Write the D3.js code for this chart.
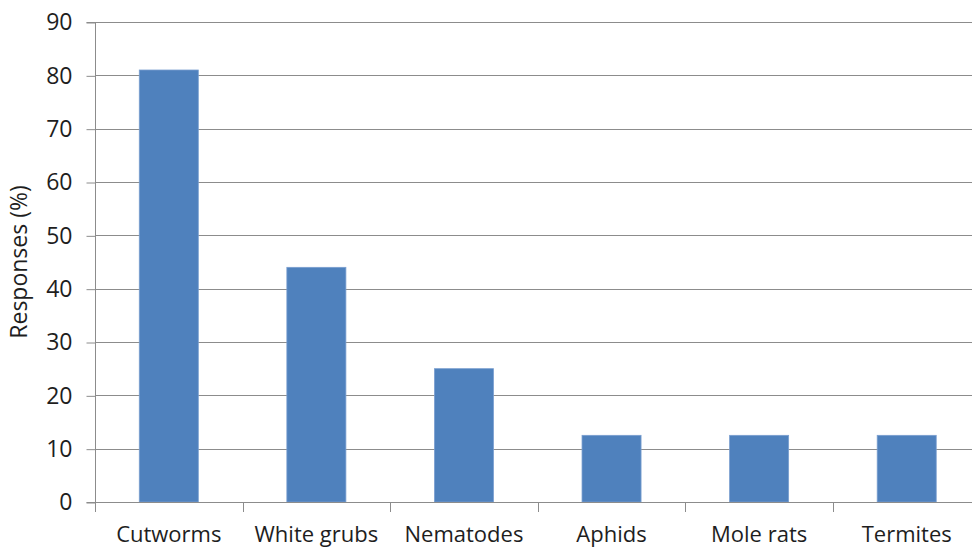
<!DOCTYPE html>
<html><head><meta charset="utf-8">
<script src="https://cdn.jsdelivr.net/npm/d3@7"></script>
<style>body{margin:0;background:#fff}svg{display:block}</style>
</head><body>
<svg id="c" width="972" height="550"></svg>
<script>
const categories = ["Cutworms","White grubs","Nematodes","Aphids","Mole rats","Termites"];
const values = [81, 44, 25, 12.5, 12.5, 12.5];
const yTicks = [0,10,20,30,40,50,60,70,80,90];

const svg = d3.select("#c");
const W = 972, H = 550;
const m = {left:95, right:W-980.5, top:22, bottom:H-502};
const x = d3.scaleBand().domain(categories).range([m.left, W - m.right]).paddingInner(0.6).paddingOuter(0.3);
const y = d3.scaleLinear().domain([0,90]).range([H - m.bottom, m.top]);
const font = "'Open Sans', 'Liberation Sans', sans-serif";
const grid = "#8c8c8c";
const txt = "#1e1e1e";

// gridlines
svg.append("g").selectAll("line").data(yTicks.slice(1)).join("line")
  .attr("x1", m.left).attr("x2", W - m.right)
  .attr("y1", d => Math.round(y(d)) + 0.5).attr("y2", d => Math.round(y(d)) + 0.5)
  .attr("stroke", grid).attr("stroke-width", 1);

// bars
svg.append("g").selectAll("rect").data(values).join("rect")
  .attr("x", (d,i) => x(categories[i]))
  .attr("width", x.bandwidth())
  .attr("y", d => y(d))
  .attr("height", d => y(0) - y(d))
  .attr("fill", "#4f81bd")
  .attr("stroke", "#7a9fd0").attr("stroke-width", 0.8);

// y axis
const yAxis = d3.axisLeft(y).tickValues(yTicks).tickSize(9).tickPadding(14);
const gy = svg.append("g").attr("transform", `translate(${m.left + 0.5},0.5)`).call(yAxis);
gy.select(".domain").attr("stroke", grid).attr("d", `M-9,${y(0)}H0V${y(90)}H-9`);
gy.selectAll(".tick line").attr("stroke", grid);
gy.selectAll(".tick text").attr("font-family", font).attr("font-size", 23).attr("fill", txt);

// x axis
const gx = svg.append("g");
gx.append("line").attr("x1", m.left).attr("x2", W - m.right)
  .attr("y1", Math.round(y(0)) + 0.5).attr("y2", Math.round(y(0)) + 0.5).attr("stroke", grid);
const step = (W - m.right - m.left) / categories.length;
gx.selectAll("line.t").data(d3.range(categories.length + 1)).join("line").attr("class","t")
  .attr("x1", i => Math.round(m.left + i*step) + 0.5).attr("x2", i => Math.round(m.left + i*step) + 0.5)
  .attr("y1", Math.round(y(0))).attr("y2", Math.round(y(0)) + 10).attr("stroke", grid);
gx.selectAll("text").data(categories).join("text")
  .attr("x", d => x(d) + x.bandwidth()/2).attr("y", 542)
  .attr("text-anchor", "middle").attr("font-family", font).attr("font-size", 22).attr("fill", txt)
  .text(d => d);

// y label
svg.append("text").attr("transform", "translate(27,262) rotate(-90)")
  .attr("text-anchor", "middle").attr("font-family", font).attr("font-size", 23).attr("fill", txt)
  .text("Responses (%)");
</script>
</body></html>
